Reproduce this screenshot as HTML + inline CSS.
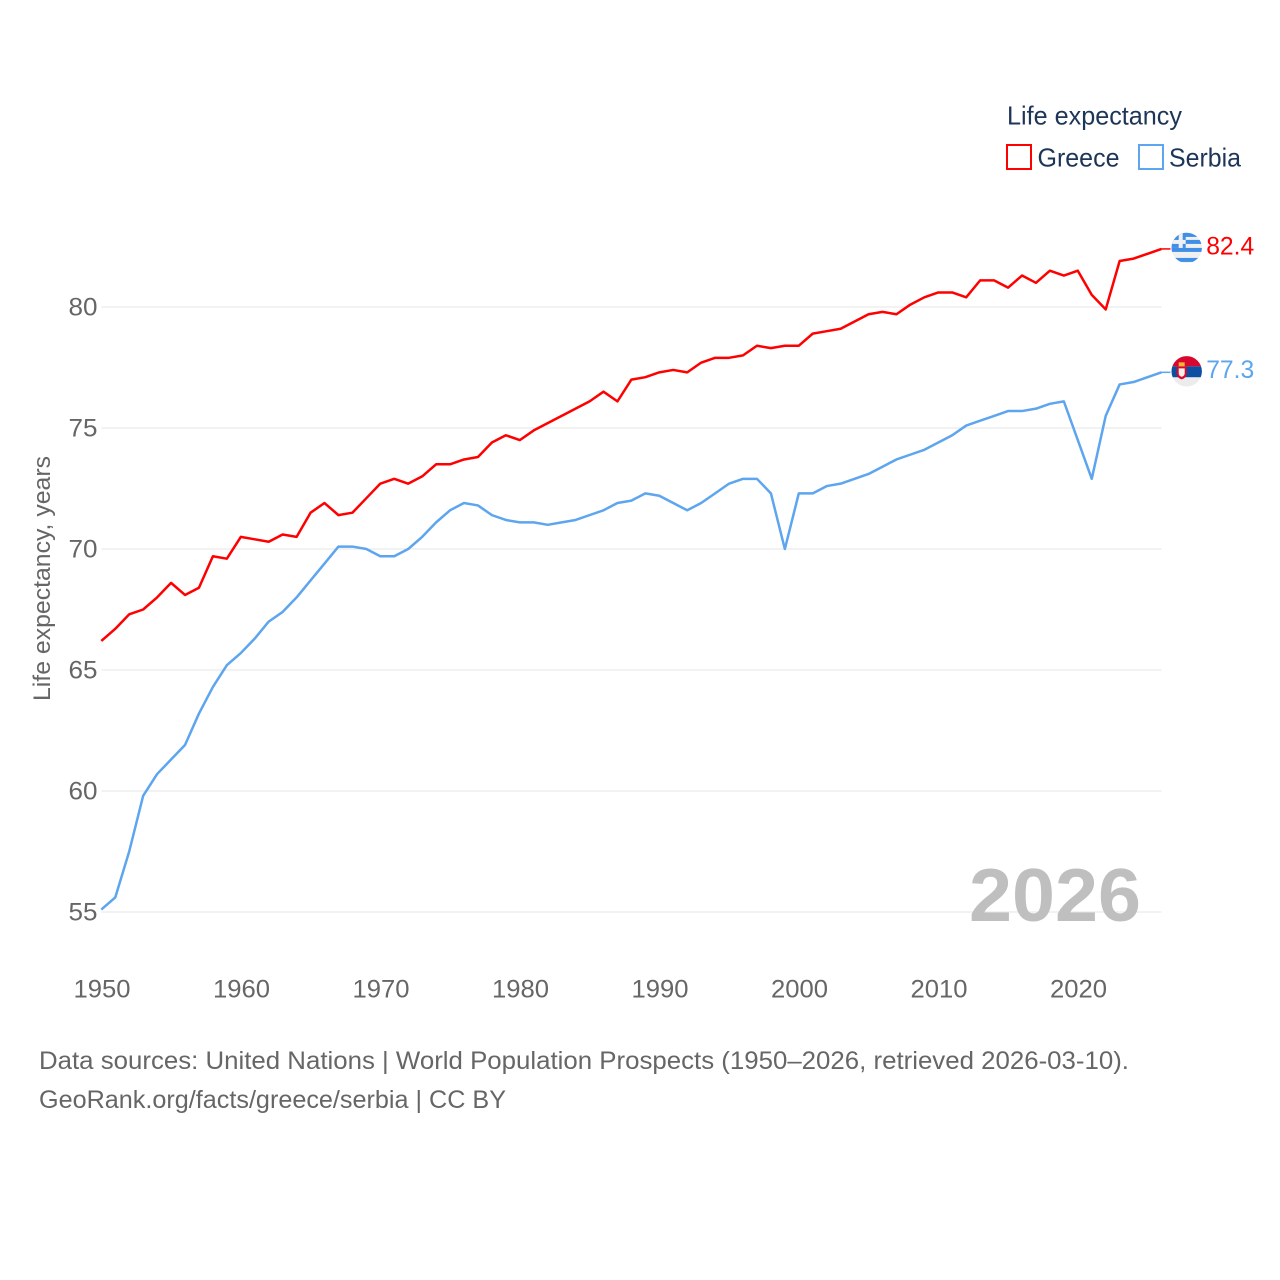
<!DOCTYPE html>
<html lang="en">
<head>
<meta charset="utf-8">
<title>Life expectancy: Greece and Serbia</title>
<style>
html,body{margin:0;padding:0;background:#fff;}
svg{display:block;font-family:"Liberation Sans",sans-serif;}
</style>
</head>
<body>
<svg id="chart" width="1280" height="1280" viewBox="0 0 1280 1280" xmlns="http://www.w3.org/2000/svg">
  <rect width="1280" height="1280" fill="#fff"/>
  <defs>
    <clipPath id="flag-clip"><circle cx="0" cy="0" r="15.2"/></clipPath>
  </defs>
  <g id="grid"></g>
  <g id="y-labels"></g>
  <g id="x-labels"></g>
  <text transform="translate(50,701) rotate(-90)" font-size="24" fill="#666" textLength="245" lengthAdjust="spacingAndGlyphs">Life expectancy, years</text>
  <text x="969" y="921" font-size="75" font-weight="bold" fill="#bfbfbf" textLength="172" lengthAdjust="spacingAndGlyphs">2026</text>
  <g id="series"></g>
  <g id="flag-greece">
    <g clip-path="url(#flag-clip)">
      <rect x="-16" y="-16" width="32" height="32" fill="#f0f0f0"/>
      <rect x="-16" y="-16" width="32" height="5" fill="#3f8fe8"/>
      <rect x="-16" y="-8" width="32" height="4" fill="#3f8fe8"/>
      <rect x="-16" y="0" width="32" height="4" fill="#3f8fe8"/>
      <rect x="-16" y="10" width="32" height="4" fill="#3f8fe8"/>
      <rect x="-16" y="-16" width="15" height="16" fill="#3f8fe8"/>
      <rect x="-8" y="-16" width="4" height="16" fill="#f0f0f0"/>
      <rect x="-16" y="-8" width="15" height="4" fill="#f0f0f0"/>
    </g>
  </g>
  <g id="flag-serbia">
    <g clip-path="url(#flag-clip)">
      <rect x="-16" y="-16" width="32" height="11" fill="#d8072f"/>
      <rect x="-16" y="-5" width="32" height="11" fill="#0b4ea2"/>
      <rect x="-16" y="6" width="32" height="10" fill="#ececec"/>
      <path d="M-10,-5 h10 v7 q0,4.500 -5,6 q-5,-1.500 -5,-6 z" fill="#d8072f"/>
      <path d="M-8,-3 h6 v5 q0,2.500 -3,3.500 q-3,-1 -3,-3.500 z" fill="#f4f0ea"/>
      <rect x="-8" y="-9" width="6" height="4" fill="#f2b632"/>
    </g>
  </g>
  <g id="end-labels"></g>
  <g>
    <text x="1007" y="124.500" font-size="26" fill="#1d3557" textLength="175" lengthAdjust="spacingAndGlyphs">Life expectancy</text>
    <g>
      <rect x="1007" y="145" width="24" height="24" fill="#fff" stroke="#ff0000" stroke-width="2"/>
      <text x="1037.500" y="166.500" font-size="26" fill="#1d3557" textLength="82" lengthAdjust="spacingAndGlyphs">Greece</text>
    </g>
    <g>
      <rect x="1139" y="145" width="24" height="24" fill="#fff" stroke="#5da5ee" stroke-width="2"/>
      <text x="1169" y="166.500" font-size="26" fill="#1d3557" textLength="72" lengthAdjust="spacingAndGlyphs">Serbia</text>
    </g>
  </g>
  <text x="39" y="1069" font-size="25" fill="#666" textLength="1090" lengthAdjust="spacingAndGlyphs">Data sources: United Nations | World Population Prospects (1950–2026, retrieved 2026-03-10).</text>
  <text x="39" y="1108" font-size="25" fill="#666" textLength="467" lengthAdjust="spacingAndGlyphs">GeoRank.org/facts/greece/serbia | CC BY</text>
</svg>
<script>
const startYear = 1950;
const yTicks = [55, 60, 65, 70, 75, 80];
const xTicks = [1950, 1960, 1970, 1980, 1990, 2000, 2010, 2020];
const greeceValues = [66.2,66.7,67.3,67.5,68.0,68.6,68.1,68.4,69.7,69.6,
  70.5,70.4,70.3,70.6,70.5,71.5,71.9,71.4,71.5,72.1,
  72.7,72.9,72.7,73.0,73.5,73.5,73.7,73.8,74.4,74.7,
  74.5,74.9,75.2,75.5,75.8,76.1,76.5,76.1,77.0,77.1,
  77.3,77.4,77.3,77.7,77.9,77.9,78.0,78.4,78.3,78.4,
  78.4,78.9,79.0,79.1,79.4,79.7,79.8,79.7,80.1,80.4,
  80.6,80.6,80.4,81.1,81.1,80.8,81.3,81.0,81.5,81.3,
  81.5,80.5,79.9,81.9,82.0,82.2,82.4];
const serbiaValues = [55.1,55.6,57.5,59.8,60.7,61.3,61.9,63.2,64.3,65.2,
  65.7,66.3,67.0,67.4,68.0,68.7,69.4,70.1,70.1,70.0,
  69.7,69.7,70.0,70.5,71.1,71.6,71.9,71.8,71.4,71.2,
  71.1,71.1,71.0,71.1,71.2,71.4,71.6,71.9,72.0,72.3,
  72.2,71.9,71.6,71.9,72.3,72.7,72.9,72.9,72.3,70.0,
  72.3,72.3,72.6,72.7,72.9,73.1,73.4,73.7,73.9,74.1,
  74.4,74.7,75.1,75.3,75.5,75.7,75.7,75.8,76.0,76.1,
  74.5,72.9,75.5,76.8,76.9,77.1,77.3];

const NS = 'http://www.w3.org/2000/svg';
function xScale(year) { return 101.3 + (year - 1950) * 13.95; }
function yScale(v) { return 912 - (v - 55) * 24.2; }
function make(tag, attrs, parent, text) {
  const el = document.createElementNS(NS, tag);
  for (const k in attrs) el.setAttribute(k, attrs[k]);
  if (text !== undefined) el.textContent = text;
  parent.appendChild(el);
  return el;
}

const gridG = document.getElementById('grid');
const yLabelG = document.getElementById('y-labels');
yTicks.forEach(function (t) {
  const line = make('line', {x1: 101.5, x2: 1161.5, y1: yScale(t), y2: yScale(t), stroke: '#e6e6e6', 'stroke-width': 1}, gridG);
  
  
  const label = make('text', {x: 97.5, y: yScale(t) + 8.5, 'text-anchor': 'end', 'font-size': 25, fill: '#666', textLength: 29, lengthAdjust: 'spacingAndGlyphs'}, yLabelG, String(t));
  
  
});

const xLabelG = document.getElementById('x-labels');
xTicks.forEach(function (t) {
  const label = make('text', {x: xScale(t) + 0.7, y: 997.5, 'text-anchor': 'middle', 'font-size': 25, fill: '#666', textLength: 57, lengthAdjust: 'spacingAndGlyphs'}, xLabelG, String(t));
  
  
});

const seriesG = document.getElementById('series');
const endG = document.getElementById('end-labels');
function drawSeries(values, color, flagId) {
  const d = values.map(function (v, i) {
    return (i ? 'L' : 'M') + xScale(startYear + i).toFixed(2) + ',' + yScale(v).toFixed(2);
  }).join(' ');
  const path = make('path', {d: d, fill: 'none', stroke: color, 'stroke-width': 2.5, 'stroke-linejoin': 'round'}, seriesG);
  
  
  const last = values[values.length - 1];
  const lastX = xScale(startYear + values.length - 1);
  const lastY = yScale(last);
  const connector = make('line', {x1: lastX, x2: lastX + 9, y1: lastY, y2: lastY, stroke: color, 'stroke-width': 1.5}, seriesG);
  
  
  document.getElementById(flagId).setAttribute('transform', 'translate(' + (lastX + 25.2) + ',' + (lastY - 1) + ')');
  const label = make('text', {x: lastX + 44.7, y: lastY + 5.5, 'font-size': 25, fill: color, textLength: 48, lengthAdjust: 'spacingAndGlyphs'}, endG, last.toFixed(1));
  
  
}
drawSeries(greeceValues, '#ff0000', 'flag-greece');
drawSeries(serbiaValues, '#5da5ee', 'flag-serbia');
</script>
</body>
</html>
